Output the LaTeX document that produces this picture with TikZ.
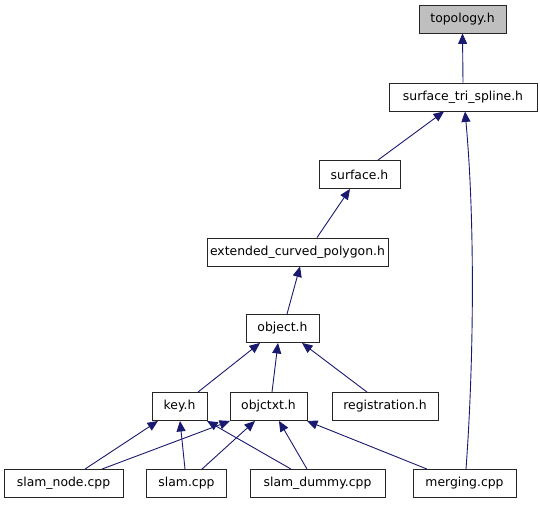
\documentclass[tikz,border=0pt]{standalone}
\usepackage{fontspec}
\setmainfont{DejaVu Sans}
\usetikzlibrary{arrows.meta}
\definecolor{edgeblue}{HTML}{191970}
\definecolor{rootgray}{HTML}{BFBFBF}
\begin{document}
\begin{tikzpicture}[x=1pt,y=-1pt,
  box/.style={draw=black!85, line width=0.9pt, fill=white, minimum height=28pt,
    inner sep=0pt, font=\fontsize{12.4}{14}\selectfont},
  edge/.style={draw=edgeblue, line width=0.9pt,
    {Triangle[length=10.5pt,width=9pt,fill=edgeblue]}-}]
\useasboundingbox (0,0) rectangle (540,504);
% nodes
\node[box, fill=rootgray, minimum width=87pt] (topo) at (462.5,19) {topology.h};
\node[box, minimum width=148pt] (sts) at (463,97) {surface\_tri\_spline.h};
\node[box, minimum width=81pt] (surf) at (359.5,174.5) {surface.h};
\node[box, minimum width=181pt] (ecp) at (297.5,252) {extended\_curved\_polygon.h};
\node[box, minimum width=73pt] (obj) at (282.5,328.5) {object.h};
\node[box, minimum width=55pt] (key) at (179.5,406.5) {key.h};
\node[box, minimum width=77pt] (ctx) at (268.5,406.5) {objctxt.h};
\node[box, minimum width=106pt] (reg) at (385,406.5) {registration.h};
\node[box, minimum width=119pt] (snode) at (63.5,483.5) {slam\_node.cpp};
\node[box, minimum width=80pt] (slam) at (186.5,483.5) {slam.cpp};
\node[box, minimum width=135pt] (sdum) at (317.5,483.5) {slam\_dummy.cpp};
\node[box, minimum width=103pt] (merg) at (464.5,483.5) {merging.cpp};
% edges (arrow at the included header)
\draw[edge] (topo.south) -- (sts.north);
\draw[edge] ([xshift=-19pt]sts.south) -- ([xshift=18.5pt]surf.north);
\draw[edge] ([xshift=2pt]sts.south) .. controls (475,220) and (474,360) .. ([xshift=1.5pt]merg.north);
\draw[edge] ([xshift=-9.5pt]surf.south) -- ([xshift=19.5pt]ecp.north);
\draw[edge] ([xshift=2.5pt]ecp.south) -- ([xshift=4.5pt]obj.north);
\draw[edge] ([xshift=-22.5pt]obj.south) -- ([xshift=18.5pt]key.north);
\draw[edge] ([xshift=-4.5pt]obj.south) -- ([xshift=3.5pt]ctx.north);
\draw[edge] ([xshift=19.5pt]obj.south) -- ([xshift=-18pt]reg.north);
\draw[edge] ([xshift=-21.5pt]key.south) -- ([xshift=21.5pt]snode.north);
\draw[edge] ([xshift=-38.5pt]ctx.south) -- ([xshift=38.5pt]snode.north);
\draw[edge] ([xshift=0.5pt]key.south) -- ([xshift=-1.5pt]slam.north);
\draw[edge] ([xshift=-13.5pt]ctx.south) -- ([xshift=15.5pt]slam.north);
\draw[edge] ([xshift=27.5pt]key.south) -- ([xshift=-26.5pt]sdum.north);
\draw[edge] ([xshift=10.5pt]ctx.south) -- ([xshift=-10.5pt]sdum.north);
\draw[edge] ([xshift=38.5pt]ctx.south) -- ([xshift=-37.5pt]merg.north);
\end{tikzpicture}
\end{document}
